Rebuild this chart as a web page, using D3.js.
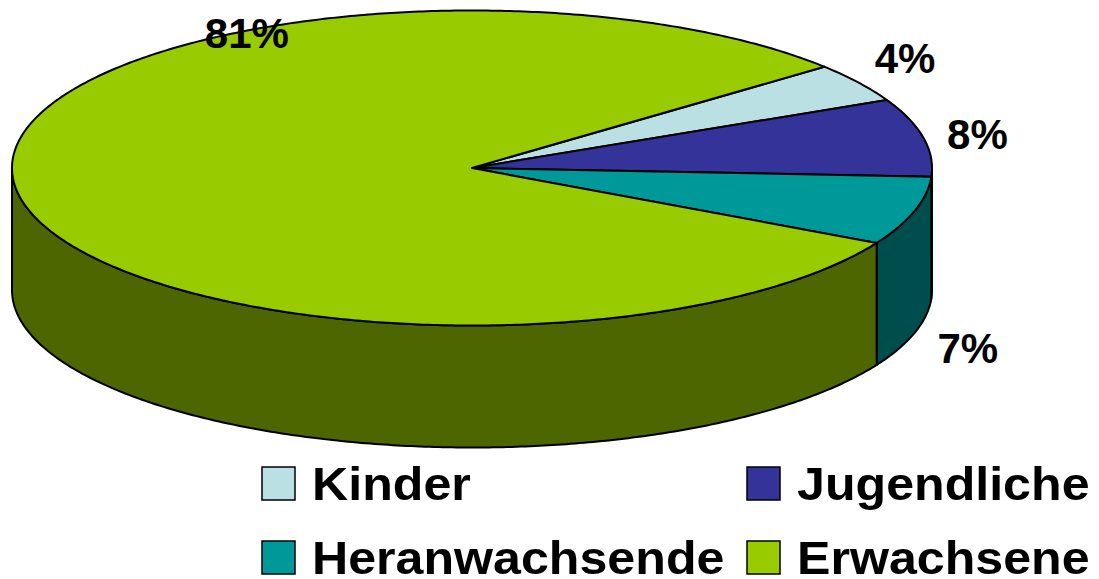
<!DOCTYPE html>
<html>
<head>
<meta charset="utf-8">
<script src="https://cdn.jsdelivr.net/npm/d3@7"></script>
<style>
  html, body { margin: 0; padding: 0; background: #fff; }
  svg { display: block; font-family: "Liberation Sans", Arial, sans-serif; font-weight: bold; }
</style>
</head>
<body>
<svg id="chart" width="1099" height="579"></svg>
<script>
// data
const categories = ['Kinder', 'Jugendliche', 'Heranwachsende', 'Erwachsene'];
const values = [4, 8, 7, 81];
const valueLabels = ['4%', '8%', '7%', '81%'];
const colors = ['#BBE0E3', '#333399', '#009999', '#99CC00'];

// geometry of the tilted pie
const W = 1099, H = 579;
const cx = 472, cy = 168, rx = 460, ry = 157.5, depth = 122;
const startDeg = 50; // d3 angle (0 = 12 o'clock) where Kinder starts

const svg = d3.select('#chart');

const pie = d3.pie().sort(null)
  .startAngle(startDeg * Math.PI / 180)
  .endAngle(startDeg * Math.PI / 180 + 2 * Math.PI);
const arcs = pie(values).map((d, i) => ({ ...d, i }));

// d3 angle -> screen angle (0 = 3 o'clock, clockwise)
const toScreen = a => a - Math.PI / 2;

function ellPts(t0, t1, yOff) {
  const n = Math.max(2, Math.ceil(Math.abs(t1 - t0) / 0.01));
  return d3.range(n + 1).map(k => {
    const t = t0 + (t1 - t0) * k / n;
    return [cx + rx * Math.cos(t), cy + ry * Math.sin(t) + yOff];
  });
}

const line = d3.line();
const darken = c => { const r = d3.rgb(c); return d3.rgb(r.r * 0.5, r.g * 0.5, r.b * 0.5).formatHex(); };

// side walls (front half only: screen angle in [0, PI])
const walls = [];
arcs.forEach(d => {
  const t0 = toScreen(d.startAngle), t1 = toScreen(d.endAngle);
  [-1, 0, 1].forEach(k => {
    const lo = Math.max(t0, 2 * Math.PI * k), hi = Math.min(t1, Math.PI + 2 * Math.PI * k);
    if (hi > lo) walls.push({ i: d.i, lo, hi });
  });
});

svg.append('g').selectAll('path').data(walls).enter()
  .append('path')
  .attr('d', w => line(ellPts(w.lo, w.hi, 0).concat(ellPts(w.hi, w.lo, depth))) + 'Z')
  .attr('fill', w => darken(colors[w.i]))
  .attr('stroke', '#000')
  .attr('stroke-width', 2)
  .attr('stroke-linejoin', 'round');

// top faces
svg.append('g').selectAll('path').data(arcs).enter()
  .append('path')
  .attr('d', d => line([[cx, cy]].concat(ellPts(toScreen(d.startAngle), toScreen(d.endAngle), 0))) + 'Z')
  .attr('fill', d => colors[d.i])
  .attr('stroke', '#000')
  .attr('stroke-width', 2)
  .attr('stroke-linejoin', 'round');

// value labels: off the rim at the slice mid angle, nudged like the original
const labelNudge = [[0, -14], [0, 0], [0, 132]];
const bigLabelDeg = -119.3; // the 81% label sits on the back rim
function labelPos(d) {
  if (d.i === 3) {
    const t = bigLabelDeg * Math.PI / 180;
    return [cx + rx * Math.cos(t), cy + ry * Math.sin(t) + 17];
  }
  const t = toScreen((d.startAngle + d.endAngle) / 2);
  return [cx + rx * 1.12 * Math.cos(t) + labelNudge[d.i][0],
          cy + ry * 1.12 * Math.sin(t) + 15 + labelNudge[d.i][1]];
}
svg.append('g').selectAll('text').data(arcs).enter()
  .append('text')
  .attr('x', d => labelPos(d)[0])
  .attr('y', d => labelPos(d)[1])
  .attr('text-anchor', 'middle')
  .attr('font-size', 42)
  .attr('fill', '#000')
  .text(d => valueLabels[d.i]);

// legend
const legX = [262, 747], legY = [467, 541];
const leg = svg.append('g').selectAll('g').data(categories).enter()
  .append('g')
  .attr('transform', (d, i) => `translate(${legX[i % 2]},${legY[Math.floor(i / 2)]})`);

leg.append('rect')
  .attr('width', 33).attr('height', 33)
  .attr('fill', (d, i) => colors[i])
  .attr('stroke', '#000').attr('stroke-width', 1.5);

leg.append('text')
  .attr('transform', 'translate(50,33) scale(1.09,1)')
  .attr('font-size', 46)
  .attr('fill', '#000')
  .text(d => d);
</script>
</body>
</html>
